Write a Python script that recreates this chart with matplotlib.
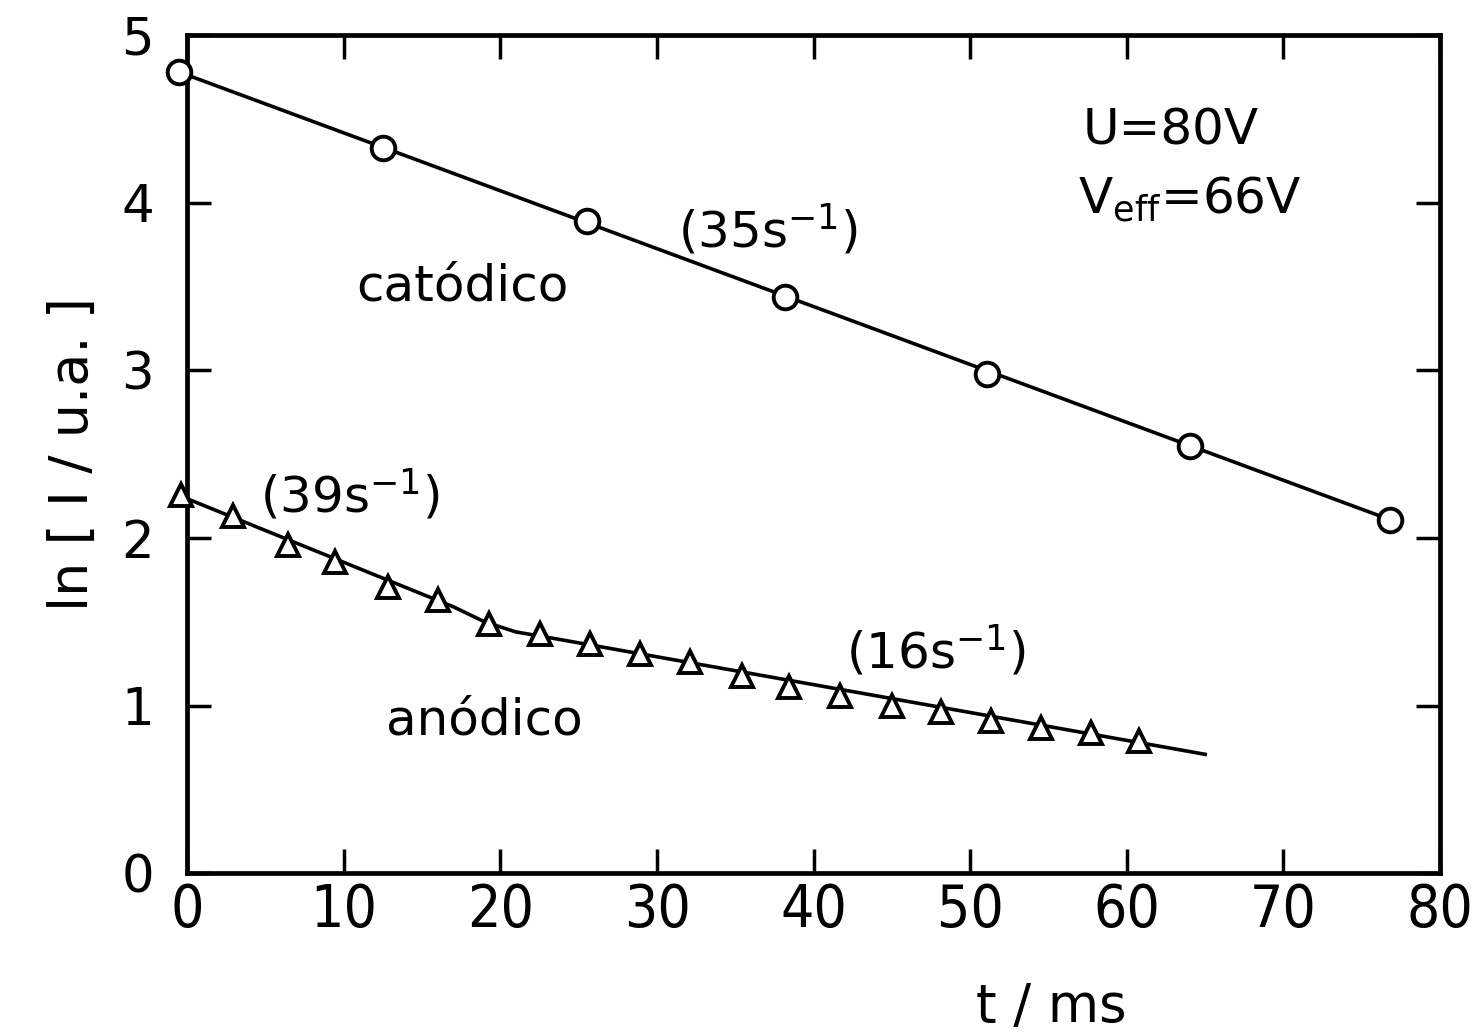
import matplotlib.pyplot as plt

# catodic series (circles) and its straight fit
t_cat = [-0.5, 12.5, 25.5, 38.2, 51.1, 64.0, 76.8]
ln_cat = [4.78, 4.33, 3.89, 3.44, 2.98, 2.55, 2.11]
fit_cat_t = [-0.5, 76.8]
fit_cat_y = [4.78, 2.11]

# anodic series (triangles) and its two-slope fit
t_an = [-0.4, 2.9, 6.45, 9.45, 12.8, 16.0, 19.3, 22.5, 25.7, 28.9,
        32.1, 35.4, 38.4, 41.7, 45.0, 48.1, 51.3, 54.5, 57.7, 60.8]
ln_an = [2.26, 2.13, 1.96, 1.86, 1.71, 1.63, 1.49, 1.43, 1.37, 1.31,
         1.26, 1.18, 1.11, 1.06, 1.00, 0.96, 0.91, 0.87, 0.84, 0.79]
fit_an_t = [-0.4, 17.0, 19.0, 21.0, 23.5, 65.0]
fit_an_y = [2.25, 1.59, 1.50, 1.44, 1.40, 0.71]

xticks = [0, 10, 20, 30, 40, 50, 60, 70, 80]
yticks = [0, 1, 2, 3, 4, 5]


def plotar():
    plt.rcParams['font.family'] = ['DejaVu Sans']
    fig = plt.figure(figsize=(14.74, 10.36), dpi=100)
    ax = fig.add_axes([0.127, 0.157, 0.85, 0.809])

    ax.plot(fit_cat_t, fit_cat_y, color='black', lw=2.6, clip_on=False)
    ax.plot(t_cat, ln_cat, linestyle='none', marker='o', markersize=17,
            markerfacecolor='white', markeredgecolor='black', markeredgewidth=2.8,
            clip_on=False, zorder=3)

    ax.plot(fit_an_t, fit_an_y, color='black', lw=2.6, clip_on=False)
    ax.plot(t_an, ln_an, linestyle='none', marker='^', markersize=16,
            markerfacecolor='white', markeredgecolor='black', markeredgewidth=2.8,
            clip_on=False, zorder=3)

    ax.set_xlim(0, 80)
    ax.set_ylim(0, 5)
    ax.set_xticks(xticks)
    ax.set_yticks(yticks)
    ax.tick_params(direction='in', length=17, width=2.5, top=True, right=True,
                   labelsize=37)
    ax.tick_params(axis='y', pad=24)
    ax.tick_params(axis='x', pad=6, labelsize=42)
    for lab in ax.get_xticklabels():
        lab.set_fontstretch('condensed')
    for s in ax.spines.values():
        s.set_linewidth(3.4)

    ax.set_xlabel('t / ms', fontsize=38)
    ax.xaxis.set_label_coords(0.69, -0.128)
    ax.set_ylabel('ln [ I / u.a. ]', fontsize=39, labelpad=16)

    tsz = 36
    ax.text(62.8, 4.43, 'U=80V', fontsize=tsz, ha='center', va='center')
    ax.text(64.0, 4.02, r'V$_{\mathrm{eff}}$=66V', fontsize=tsz, ha='center', va='center')
    ax.text(37.1, 3.84, r'(35s$^{-1}$)', fontsize=tsz, ha='center', va='center')
    ax.text(17.6, 3.50, 'catódico', fontsize=tsz, ha='center', va='center')
    ax.text(10.4, 2.26, r'(39s$^{-1}$)', fontsize=tsz, ha='center', va='center')
    ax.text(19.0, 0.91, 'anódico', fontsize=tsz, ha='center', va='center')
    ax.text(47.8, 1.33, r'(16s$^{-1}$)', fontsize=tsz, ha='center', va='center')

    fig.savefig('out.png', dpi=100)


if __name__ == '__main__':
    plotar()
